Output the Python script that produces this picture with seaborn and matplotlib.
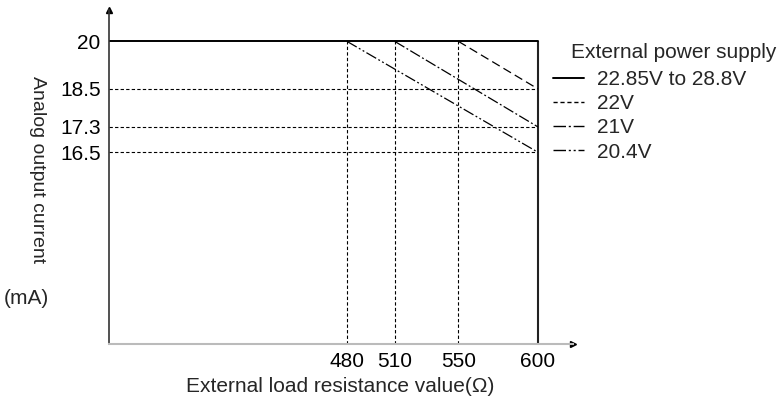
import matplotlib
matplotlib.use("Agg")
import matplotlib.pyplot as plt
import seaborn as sns
import pandas as pd
from matplotlib.lines import Line2D

# ---- data ----
supply_labels = ["22.85V to 28.8V", "22V", "21V", "20.4V"]
x_min_axis = 330.5          # left end of the (broken) resistance axis
x_max_axis = 622.0
y_min_axis = 10.45
y_max_axis = 20.99
res_solid = [x_min_axis, 600]
cur_solid = [20, 20]
res_22v = [550, 600]
cur_22v = [20, 18.5]
res_21v = [510, 600]
cur_21v = [20, 17.3]
res_204v = [480, 600]
cur_204v = [20, 16.5]
x_ticks = [480, 510, 550, 600]
y_ticks = [20, 18.5, 17.3, 16.5]
y_tick_labels = ["20", "18.5", "17.3", "16.5"]

sns.set_theme(style="white")
plt.rcParams["font.family"] = ["Liberation Sans", "DejaVu Sans"]

df = pd.concat([
    pd.DataFrame({"res": res_solid, "cur": cur_solid, "supply": supply_labels[0]}),
    pd.DataFrame({"res": res_22v, "cur": cur_22v, "supply": supply_labels[1]}),
    pd.DataFrame({"res": res_21v, "cur": cur_21v, "supply": supply_labels[2]}),
    pd.DataFrame({"res": res_204v, "cur": cur_204v, "supply": supply_labels[3]}),
])

dash_map = {
    supply_labels[0]: "",
    supply_labels[1]: (7, 3.5),
    supply_labels[2]: (9, 2, 1.5, 2),
    supply_labels[3]: (9, 2, 1.5, 2, 1.5, 2),
}
lw_map = {supply_labels[0]: 1.4, supply_labels[1]: 0.9,
          supply_labels[2]: 0.9, supply_labels[3]: 0.9}

fig = plt.figure(figsize=(7.84, 4.04), dpi=100)
ax = fig.add_axes([109 / 784, (404 - 344) / 404, (573 - 109) / 784, (344 - 10) / 404])

# guide lines
for yv in y_ticks[1:]:
    ax.hlines(yv, x_min_axis, 600, colors="black", linestyles=(0, (3, 2)), linewidth=0.8)
for xv in x_ticks[:-1]:
    ax.vlines(xv, y_min_axis, 20, colors="black", linestyles=(0, (3, 2)), linewidth=0.8)
ax.vlines(600, y_min_axis, 20, colors="#222222", linewidth=1.5)

for lab in supply_labels:
    sub = df[df["supply"] == lab]
    sns.lineplot(data=sub, x="res", y="cur", ax=ax, color="black",
                 linewidth=lw_map[lab], dashes=False, legend=False,
                 estimator=None, sort=False)
    line = ax.lines[-1]
    if dash_map[lab]:
        line.set_dashes(dash_map[lab])

ax.set_xlim(x_min_axis, x_max_axis)
ax.set_ylim(y_min_axis, y_max_axis)

ax.set_xticks(x_ticks)
ax.set_xticklabels([str(v) for v in x_ticks])
ax.set_yticks(y_ticks)
ax.set_yticklabels(y_tick_labels)
ax.tick_params(axis="both", length=0, labelsize=15, colors="black")
ax.tick_params(axis="x", pad=6)
ax.tick_params(axis="y", pad=6)
ax.set_xlabel("")
ax.set_ylabel("")

for s in ["top", "right"]:
    ax.spines[s].set_visible(False)
ax.spines["left"].set_color("#333333")
ax.spines["left"].set_linewidth(1.2)
ax.spines["bottom"].set_color("#bbbbbb")
ax.spines["bottom"].set_linewidth(1.5)
ax.plot([1], [0], marker=">", color="black", markersize=5, transform=ax.transAxes, clip_on=False)
ax.plot([0], [1], marker="^", color="black", markersize=4, transform=ax.transAxes, clip_on=False)

fig.text(340 / 784, 1 - 386 / 404, "External load resistance value(Ω)", ha="center", va="center", fontsize=15)
fig.text(37 / 784, 1 - 170 / 404, "Analog output current", ha="center", va="center", fontsize=14, rotation=-90)
fig.text(26 / 784, 1 - 298 / 404, "(mA)", ha="center", va="center", fontsize=15)

fig.text(571 / 784, 1 - 53 / 404, "External power supply", ha="left", va="center", fontsize=15)
handles = []
for lab in supply_labels:
    h = Line2D([0], [0], color="black", linewidth=1.4 if not dash_map[lab] else 1.0)
    if dash_map[lab]:
        h.set_dashes(dash_map[lab] if lab != supply_labels[1] else (3, 2))
    handles.append(h)
fig.legend(handles, supply_labels, loc="upper left",
           bbox_to_anchor=(553 / 784, 1 - 70 / 404), frameon=False,
           fontsize=15, handlelength=1.5, handletextpad=0.6, labelspacing=0.25,
           borderaxespad=0, borderpad=0)

fig.savefig("out.png", dpi=100)
